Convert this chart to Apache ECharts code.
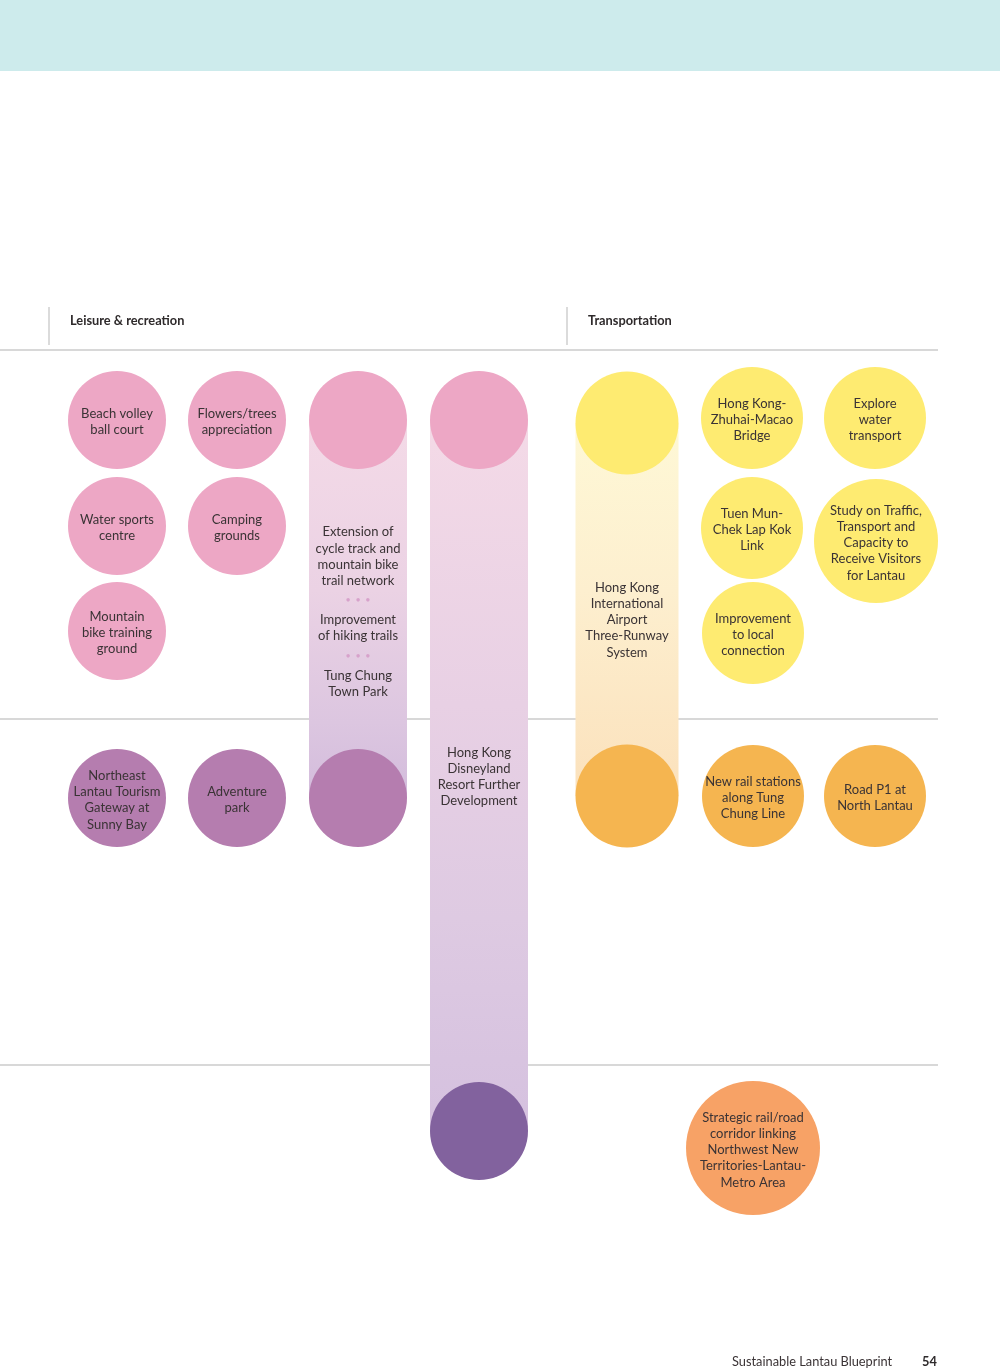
<!DOCTYPE html>
<html><head><meta charset="utf-8">
<script src="https://cdn.jsdelivr.net/npm/echarts@6/dist/echarts.min.js"></script>
<style>html,body{margin:0;padding:0;background:#fff}#c{width:1000px;height:1372px}</style>
</head><body><div id="c"></div>
<script>
// ---- data ----
const sectionTitles = ['Leisure & recreation', 'Transportation'];
const footerTitle = 'Sustainable Lantau Blueprint';
const pageNumber = '54';

// stand-alone circles
const circleLabels = [
  'Beach volley\nball court', 'Flowers/trees\nappreciation',
  'Water sports\ncentre', 'Camping\ngrounds',
  'Mountain\nbike training\nground',
  'Northeast\nLantau Tourism\nGateway at\nSunny Bay', 'Adventure\npark',
  'Hong Kong-\nZhuhai-Macao\nBridge', 'Explore\nwater\ntransport',
  'Tuen Mun-\nChek Lap Kok\nLink', 'Study on Traffic,\nTransport and\nCapacity to\nReceive Visitors\nfor Lantau',
  'Improvement\nto local\nconnection',
  'New rail stations\nalong Tung\nChung Line', 'Road P1 at\nNorth Lantau',
  'Strategic rail/road\ncorridor linking\nNorthwest New\nTerritories-Lantau-\nMetro Area',
  '', '', '', '', '', ''
];
const circleX = [117, 237, 117, 237, 117, 117, 237, 752, 875, 752, 876, 753, 753, 875, 753, 358, 358, 479, 479, 627, 627];
const circleY = [420, 420, 526, 526, 631, 798, 798, 418, 418, 528, 541, 633, 796, 796, 1148, 420, 798, 420, 1131, 423, 796];
const circleD = [98, 98, 98, 98, 98, 98, 98, 102, 102, 102, 124, 102, 102, 102, 134, 98, 98, 98, 98, 103, 103];
const circleKind = ['pink','pink','pink','pink','pink','purple','purple','yellow','yellow','yellow','yellow','yellow','amber','amber','orange','pink','purple','pink','violet','yellow','amber'];

// long-running projects (bars)
const barLabels = [
  ['Extension of\ncycle track and\nmountain bike\ntrail network', 'Improvement\nof hiking trails', 'Tung Chung\nTown Park'],
  ['Hong Kong\nDisneyland\nResort Further\nDevelopment'],
  ['Hong Kong\nInternational\nAirport\nThree-Runway\nSystem']
];
const barX = [358, 479, 627];
const barStart = [420, 420, 423];
const barEnd = [798, 1131, 796];
const barWidth = [98, 98, 103];
const barLabelY = [612, 777, 620];

// row separators
const rowLines = [350, 719, 1065];

// ---- styles ----
const palette = {pink:'#EDA7C5', purple:'#B57DAF', violet:'#82629E', yellow:'#FEEB71', amber:'#F5B550', orange:'#F7A266'};
const barGradients = [
  [[0,'#F4DAE7'],[0.45,'#EBD2E4'],[0.8,'#DCC6E0'],[1,'#D3BCDC']],
  [[0,'#F4DAE7'],[0.4,'#E8D0E4'],[0.7,'#DECAE2'],[1,'#D5C1DF']],
  [[0,'#FEF8D6'],[0.45,'#FDEFCF'],[1,'#FBE1BC']]
];
const textColor = '#3A3335';
const FONT = 'Lato, "Open Sans", sans-serif';

const chart = echarts.init(document.getElementById('c'), null, {renderer:'canvas'});

const graphics = [
  {type:'rect', z:0, shape:{x:0,y:0,width:1000,height:71}, style:{fill:'#CDEBEC'}},
  {type:'line', z:0, shape:{x1:49,y1:307,x2:49,y2:345}, style:{stroke:'#CFCFCF',lineWidth:1.5}},
  {type:'line', z:0, shape:{x1:567,y1:307,x2:567,y2:345}, style:{stroke:'#CFCFCF',lineWidth:1.5}},
  {type:'text', z:0, x:70, y:321, style:{text:sectionTitles[0], fill:'#2E2A2B', font:'bold 12.8px '+FONT, textVerticalAlign:'middle'}},
  {type:'text', z:0, x:588, y:321, style:{text:sectionTitles[1], fill:'#2E2A2B', font:'bold 12.8px '+FONT, textVerticalAlign:'middle'}},
  {type:'text', z:0, x:732, y:1362, style:{text:footerTitle, fill:'#3A3335', font:'12.8px '+FONT, textVerticalAlign:'middle'}},
  {type:'text', z:0, x:922, y:1362, style:{text:pageNumber, fill:'#2E2A2B', font:'bold 12.8px '+FONT, textVerticalAlign:'middle'}}
];

const lineData = rowLines.map(y => [0, y, 938]);

function barText(parts){
  const out = [];
  parts.forEach((p,i)=>{
    if(i>0) out.push('{d|•  •  •}');
    p.split('\n').forEach(l=>out.push('{t|'+l+'}'));
  });
  return out.join('\n');
}

const option = {
  animation:false,
  grid:{left:0,right:0,top:0,bottom:0},
  xAxis:{type:'value',min:0,max:1000,show:false},
  yAxis:{type:'value',min:0,max:1372,inverse:true,show:false},
  graphic:graphics,
  series:[
    {
      type:'custom', z:1, silent:true,
      data: lineData,
      renderItem(params, api){
        const a = api.coord([api.value(0), api.value(1)]);
        const b = api.coord([api.value(2), api.value(1)]);
        return {type:'line', shape:{x1:a[0],y1:a[1],x2:b[0],y2:b[1]}, style:{stroke:'#CBCBCB', lineWidth:1.5}};
      }
    },
    {
      type:'custom', z:2, silent:true,
      data: barX.map((x,i)=>[x, barStart[i], barEnd[i], barWidth[i], barLabelY[i]]),
      renderItem(params, api){
        const i = params.dataIndex;
        const x = api.value(0);
        const p0 = api.coord([x, api.value(1)]);
        const p1 = api.coord([x, api.value(2)]);
        const w = api.size([api.value(3), 0])[0];
        const ly = api.coord([x, api.value(4)])[1];
        return {type:'group', children:[
          {type:'rect', shape:{x:p0[0]-w/2, y:p0[1], width:w, height:p1[1]-p0[1]},
           style:{fill:new echarts.graphic.LinearGradient(0,0,0,1, barGradients[i].map(s=>({offset:s[0],color:s[1]})))}},
          {type:'text', x:p0[0], y:ly, z2:10,
           style:{text:barText(barLabels[i]), align:'center', verticalAlign:'middle',
             rich:{t:{fontFamily:FONT,fontSize:13,lineHeight:16.2,fill:textColor,color:textColor},
                   d:{fontFamily:FONT,fontSize:9,lineHeight:23,fill:'#D7A2CB',color:'#D7A2CB'}}}}
        ]};
      }
    },
    {
      type:'scatter', z:3, silent:true,
      symbol:'circle',
      data: circleX.map((x,i)=>({name:circleLabels[i], value:[x, circleY[i], circleD[i]], itemStyle:{color:palette[circleKind[i]], opacity:1}})),
      symbolSize: v => v[2],
      label:{show:true, position:'inside', offset:[0,2], formatter:p=>p.name, color:textColor, fontFamily:FONT, fontSize:13, lineHeight:16.3, align:'center'},
      emphasis:{disabled:true}
    }
  ]
};
chart.setOption(option);
</script></body></html>
